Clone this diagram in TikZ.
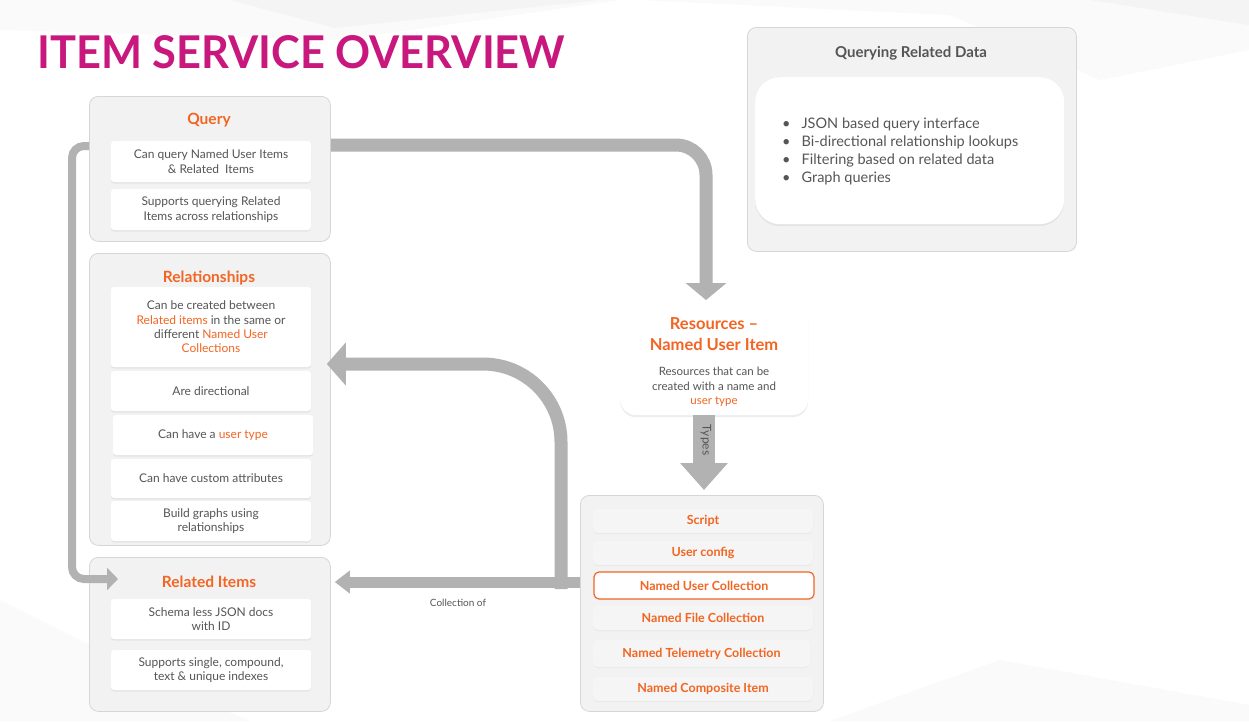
\documentclass[tikz,border=0pt]{standalone}
\usepackage{fontspec}
\setmainfont{Lato}
\usetikzlibrary{arrows.meta,shadows,calc}
\definecolor{orng}{HTML}{F26522}
\definecolor{mag}{HTML}{C8187E}
\definecolor{txt}{HTML}{555555}
\definecolor{boxfill}{HTML}{F2F2F2}
\definecolor{boxline}{HTML}{D6D6D6}
\definecolor{arr}{HTML}{B2B2B2}
\definecolor{itemfill}{HTML}{F5F5F5}
\definecolor{bgA}{HTML}{F4F4F4}
\definecolor{bgB}{HTML}{FAFAFA}
\begin{document}
\begin{tikzpicture}[x=1pt,y=-1pt,
  outerbox/.style={draw=boxline, fill=boxfill, rounded corners=9pt, line width=0.8pt, inner sep=0pt, anchor=north west},
  card/.style={fill=white, rounded corners=3pt, drop shadow={opacity=0.12, shadow xshift=0pt, shadow yshift=-1.5pt},
    align=center, text=txt, font=\fontsize{12}{14.3}\selectfont, inner sep=0pt, minimum width=200pt},
  boxtitle/.style={text=orng, font=\fontsize{15.5}{18}\selectfont\bfseries, inner sep=0pt},
  typeitem/.style={fill=itemfill, rounded corners=5pt, drop shadow={opacity=0.08, shadow xshift=0pt, shadow yshift=-1pt},
    text=orng, font=\fontsize{12.5}{14}\selectfont\bfseries, inner sep=0pt, minimum width=220pt, minimum height=24pt},
  flow/.style={draw=arr, line cap=butt},
  note/.style={text=txt, inner sep=0pt}
]
% background
\fill[white] (0,0) rectangle (1249,721);
\fill[bgB] (0,0) -- (620,0) -- (340,40) -- (0,30) -- cycle;
\fill[bgA] (230,0) -- (335,28) -- (600,0) -- cycle;
\fill[bgB] (640,0) -- (1249,0) -- (1249,50) -- (1100,80) -- (950,15) -- cycle;
\fill[bgA] (1090,0) -- (1249,0) -- (1249,25) -- cycle;
\fill[bgB] (0,600) -- (200,700) -- (250,721) -- (0,721) -- cycle;
\fill[bgB] (830,721) -- (1000,660) -- (1249,705) -- (1249,721) -- cycle;
\useasboundingbox (0,0) rectangle (1249,721);

% title
\node[anchor=base west, inner sep=0pt, text=mag] (title) at (37,68)
  {\resizebox{528pt}{33pt}{\bfseries ITEM SERVICE OVERVIEW}};

% Query box
\node[outerbox, minimum width=241pt, minimum height=145pt] (query) at (89,96) {};
\node[boxtitle] (qt) at (209,120) {Query};
\node[card, minimum height=41pt] (q1) at (211,161.5) {Can query Named User Items\\\& Related\ \ Items};
\node[card, minimum height=41pt] (q2) at (211,209.5) {Supports querying Related\\Items across relationships};

% Relationships box
\node[outerbox, minimum width=241pt, minimum height=292pt] (rel) at (89,253) {};
\node[boxtitle] (rt) at (209,278) {Relationships};
\node[card, minimum height=80pt] (r1) at (211,327) {Can be created between\\\textcolor{orng}{Related items} in the same or\\different \textcolor{orng}{Named User}\\\textcolor{orng}{Collections}};
\node[card, minimum height=40pt] (r2) at (211,391) {Are directional};
\node[card, minimum height=40pt] (r3) at (213,435) {Can have a \textcolor{orng}{user type}};
\node[card, minimum height=39pt] (r4) at (211,478.5) {Can have custom attributes};
\node[card, minimum height=40pt] (r5) at (211,521) {Build graphs using\\relationships};

% Related Items box
\node[outerbox, minimum width=241pt, minimum height=154pt] (ri) at (89,557) {};
\node[boxtitle] (rit) at (209,582) {Related Items};
\node[card, minimum height=40pt] (ri1) at (211,619) {Schema less JSON docs\\with ID};
\node[card, minimum height=40pt] (ri2) at (211,670) {Supports single, compound,\\text \& unique indexes};

% Querying Related Data
\node[outerbox, minimum width=329pt, minimum height=224pt] (qrd) at (747,27) {};
\node[inner sep=0pt, text=txt, font=\fontsize{15}{18}\selectfont\bfseries] (qrdt) at (911,53) {Querying Related Data};
\node[fill=white, rounded corners=25pt, minimum width=309pt, minimum height=147pt, inner sep=0pt, anchor=north west,
  drop shadow={opacity=0.12, shadow xshift=0pt, shadow yshift=-2pt}] (qrdin) at (755,77) {};
\node[anchor=west, inner sep=0pt, text=txt, font=\fontsize{14.5}{17.7}\selectfont] (qlist) at (782,152)
  {\begin{tabular}{@{}l@{\hspace{11pt}}l@{}}
   \textbullet & JSON based query interface\\
   \textbullet & Bi-directional relationship lookups\\
   \textbullet & Filtering based on related data\\
   \textbullet & Graph queries
   \end{tabular}};

% Resources
\node[fill=white, rounded corners=16pt, minimum width=188pt, minimum height=110pt, inner sep=0pt, anchor=north west,
  drop shadow={opacity=0.15, shadow xshift=0pt, shadow yshift=-2pt}] (res) at (620,305) {};
\node[inner sep=0pt, text=orng, align=center, font=\fontsize{16.5}{21}\selectfont\bfseries] (rest) at (714,334.5)
  {Resources --\\Named User Item};
\node[inner sep=0pt, text=txt, align=center, font=\fontsize{11.5}{14.5}\selectfont] (resb) at (714,387)
  {Resources that can be\\created with a name and\\\textcolor{orng}{user type}};

% Types box
\node[outerbox, minimum width=243pt, minimum height=216pt] (types) at (580,495) {};
\node[typeitem] (t1) at (703,521) {Script};
\node[typeitem] (t2) at (703,553) {User config};
\node[typeitem, fill=white, draw=orng, line width=1.2pt, minimum height=27pt, drop shadow={opacity=0}] (t3) at (704,585.5) {Named User Collection};
\node[typeitem] (t4) at (703,618) {Named File Collection};
\node[typeitem, minimum width=217pt, minimum height=27pt] (t5) at (701.5,653.5) {Named Telemetry Collection};
\node[typeitem] (t6) at (703,689) {Named Composite Item};

% connectors
\coordinate (qout) at (query.north east |- 0,145);
\coordinate (qin) at (query.north west |- 0,146);
\coordinate (resin) at (706,300);
\coordinate (resout) at (704,415);
\coordinate (typin) at (704,490);
\coordinate (typout) at (types.north west |- 0,582);
\coordinate (bend) at (561,589);
\coordinate (relin) at (rel.north east |- 0,364);
\coordinate (riin) at (ri.north east |- 0,582);
\coordinate (rileft) at (118,579);

\draw[flow, line width=13pt, rounded corners=30pt, -{Triangle[width=40pt,length=17pt]}]
  (qout) -- (706,145) -- (resin);
\draw[flow, line width=8pt, rounded corners=12pt, -{Triangle[width=22pt,length=11pt]}]
  (qin) -- (72,146) -- (72,579) -- (rileft);
\draw[flow, line width=22pt, -{Triangle[width=46pt,length=27pt]}] (resout) -- (typin);
\node[note, rotate=-90, font=\fontsize{12}{14}\selectfont] (typeslbl) at (706,440) {Types};
\draw[flow, line width=11pt, -{Triangle[width=22pt,length=15pt]}] (typout) -- ($(riin)+(4,0)$);
\draw[flow, line width=13pt, rounded corners=78pt, -{Triangle[width=42pt,length=19pt]}]
  (bend) -- (561,364) -- ($(relin)+(-4,0)$);
\node[note, font=\fontsize{10}{12}\selectfont] (collof) at (458,603) {Collection of};
\end{tikzpicture}
\end{document}
